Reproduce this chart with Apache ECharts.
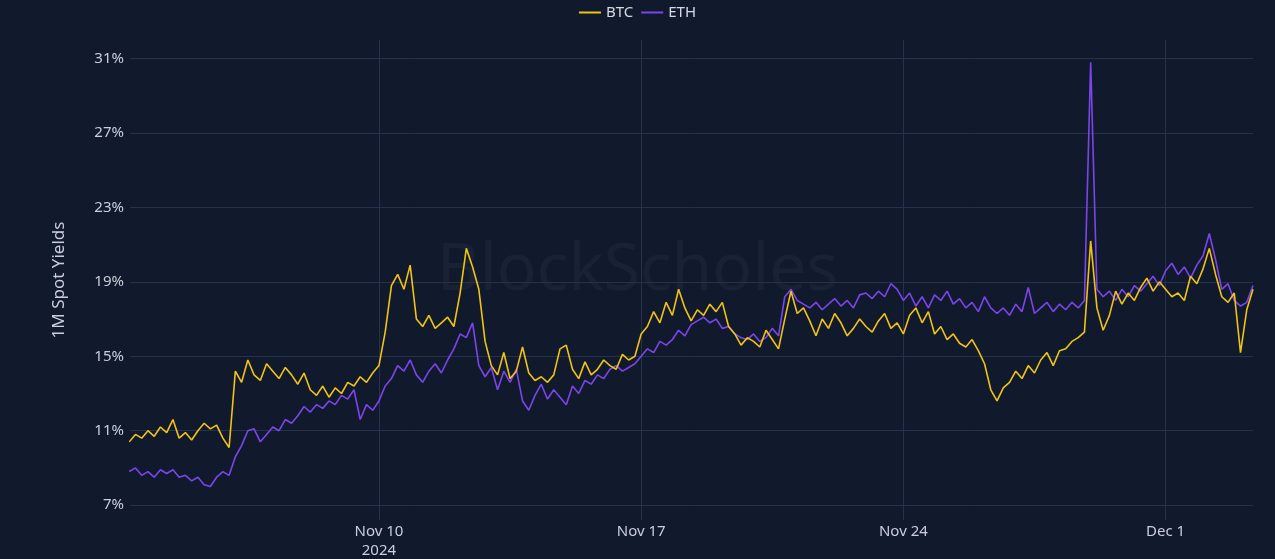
<!DOCTYPE html>
<html><head><meta charset="utf-8">
<script src="https://cdn.jsdelivr.net/npm/echarts@6/dist/echarts.min.js"></script>
<style>html,body{margin:0;padding:0;background:#111a2d;}#c{width:1275px;height:559px;}</style>
</head><body><div id="c"></div>
<script>
const startTime = Date.UTC(2024,10,3,8);
const stepHours = 4;
const btc = [10.4,10.8,10.6,11.0,10.7,11.2,10.9,11.6,10.6,10.9,
10.5,11.0,11.4,11.1,11.3,10.6,10.1,14.2,13.6,14.8,
14.0,13.7,14.6,14.2,13.8,14.4,14.0,13.5,14.1,13.2,
12.9,13.4,12.8,13.3,13.0,13.6,13.4,13.9,13.6,14.1,
14.5,16.3,18.8,19.4,18.6,19.9,17.0,16.6,17.2,16.5,
16.8,17.1,16.6,18.4,20.8,19.8,18.6,15.8,14.5,14.0,
15.2,13.8,14.2,15.5,14.1,13.7,13.9,13.6,14.0,15.4,
15.6,14.3,13.8,14.7,14.0,14.3,14.8,14.5,14.3,15.1,
14.8,15.0,16.2,16.6,17.4,16.8,17.9,17.2,18.6,17.6,
16.9,17.5,17.2,17.8,17.4,17.9,16.6,16.2,15.6,16.0,
15.8,15.5,16.4,15.9,15.4,17.0,18.5,17.3,17.6,16.9,
16.1,17.0,16.5,17.3,16.8,16.1,16.5,17.0,16.6,16.3,
16.9,17.3,16.5,16.8,16.2,17.2,17.6,16.8,17.4,16.2,
16.6,15.9,16.2,15.7,15.5,15.9,15.3,14.6,13.2,12.6,
13.3,13.6,14.2,13.8,14.5,14.1,14.8,15.2,14.5,15.3,
15.4,15.8,16.0,16.3,21.2,17.6,16.4,17.2,18.5,17.8,
18.4,18.0,18.7,19.2,18.5,19.0,18.6,18.2,18.4,18.0,
19.3,18.9,19.7,20.8,19.4,18.2,17.9,18.4,15.2,17.5,18.6];
const eth = [8.8,9.0,8.6,8.8,8.5,8.9,8.7,8.9,8.5,8.6,
8.3,8.5,8.1,8.0,8.5,8.8,8.6,9.6,10.2,11.0,
11.1,10.4,10.8,11.2,11.0,11.6,11.4,11.8,12.3,12.0,
12.4,12.2,12.6,12.4,12.9,12.7,13.2,11.6,12.4,12.1,
12.6,13.4,13.8,14.5,14.2,14.8,14.0,13.6,14.2,14.6,
14.1,14.8,15.4,16.2,16.0,16.8,14.5,13.9,14.4,13.2,
14.2,13.6,14.3,12.6,12.1,12.9,13.5,12.7,13.2,12.8,
12.4,13.4,13.0,13.7,13.5,14.0,13.8,14.3,14.5,14.2,
14.4,14.6,15.0,15.4,15.2,15.8,15.6,15.9,16.4,16.1,
16.7,16.9,17.1,16.8,17.0,16.5,16.6,16.2,16.0,15.9,
16.2,15.8,16.0,16.5,16.1,18.2,18.6,18.0,17.8,17.6,
17.9,17.5,17.8,18.1,17.7,18.0,17.6,18.3,18.4,18.1,
18.5,18.2,18.9,18.6,18.0,18.4,17.7,18.2,17.6,18.3,
18.0,18.5,17.8,18.1,17.6,17.9,17.4,18.2,17.6,17.3,
17.6,17.2,17.8,17.4,18.7,17.3,17.6,17.9,17.4,17.8,
17.5,17.9,17.6,18.0,30.8,18.6,18.2,18.5,18.0,18.6,
18.2,18.8,18.5,18.9,19.3,18.8,19.6,20.0,19.4,19.8,
19.2,19.9,20.4,21.6,20.2,18.6,18.9,18.0,17.7,17.9,18.8];
const xTicks = [Date.UTC(2024,10,10), Date.UTC(2024,10,17), Date.UTC(2024,10,24), Date.UTC(2024,11,1)];
const xTickLabels = ['Nov 10\n2024','Nov 17','Nov 24','Dec 1'];
const yTicks = [7,11,15,19,23,27,31];

const toPts = a => a.map((v,i)=>[startTime + i*stepHours*3600000, v]);
const chart = echarts.init(document.getElementById('c'));
const axisColor = '#c9ced8';
chart.setOption({
  backgroundColor:'#111a2d',
  animation:false,
  graphic:[{type:'text',left:'center',top:238,style:{text:'BlockScholes',fill:'rgba(255,255,255,0.035)',font:'normal 66px "Noto Sans"'}}],
  legend:{top:0,left:'center',itemWidth:22,itemHeight:2,itemGap:8,icon:'rect',
    textStyle:{color:'#d6d9e0',fontSize:15,fontFamily:'"Noto Sans"'},data:['BTC','ETH']},
  grid:{left:130,right:22,top:40,bottom:39,outerBoundsMode:'none',containLabel:false},
  xAxis:{type:'value',min:Date.UTC(2024,10,3,8,30),max:Date.UTC(2024,11,3,8),
    axisLine:{show:false},axisTick:{show:false,customValues:xTicks},
    splitLine:{show:true,lineStyle:{color:'#26324d',width:1}},
    axisLabel:{customValues:xTicks,color:axisColor,fontSize:15,fontFamily:'"Noto Sans"',margin:2,lineHeight:19,
      formatter:v=>{const k=xTicks.indexOf(v);return k>=0?xTickLabels[k]:'';}}},
  yAxis:{type:'value',min:6.2,max:32,name:'1M Spot Yields',nameLocation:'middle',nameGap:62,
    nameTextStyle:{color:axisColor,fontSize:17,fontFamily:'"Noto Sans"'},
    axisLine:{show:false},axisTick:{show:false,customValues:yTicks},
    splitLine:{lineStyle:{color:'#26324d'}},
    axisLabel:{customValues:yTicks,color:axisColor,fontSize:15,fontFamily:'"Noto Sans"',margin:6,formatter:v=>v+'%'}},
  series:[
    {name:'BTC',type:'line',data:toPts(btc),showSymbol:false,lineStyle:{color:'#f1c40f',width:1.6},itemStyle:{color:'#f1c40f'}},
    {name:'ETH',type:'line',data:toPts(eth),showSymbol:false,lineStyle:{color:'#7b45eb',width:1.6},itemStyle:{color:'#7b45eb'},z:1}
  ]
});
</script></body></html>
